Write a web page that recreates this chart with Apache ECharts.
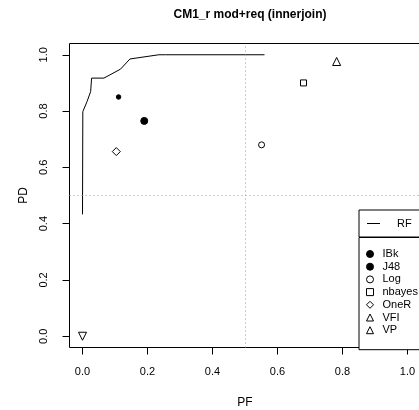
<!DOCTYPE html>
<html>
<head>
<meta charset="utf-8">
<script src="https://cdn.jsdelivr.net/npm/echarts@6/dist/echarts.min.js"></script>
<style>html,body{margin:0;padding:0;background:#fff}#c{width:419px;height:410px}</style>
</head>
<body>
<div id="c"></div>
<script>
// ---- data ----
const titleText = 'CM1_r mod+req (innerjoin)';
const xName = 'PF';
const yName = 'PD';
const tickValues = [0, 0.2, 0.4, 0.6, 0.8, 1.0];
const thresholdPF = 0.5;
const thresholdPD = 0.5;
// RF curve (PF, PD)
const rfPF = [0.000, 0.001, 0.014, 0.025, 0.028, 0.066, 0.117, 0.146, 0.235, 0.238, 0.255, 0.560];
const rfPD = [0.433, 0.798, 0.834, 0.869, 0.917, 0.917, 0.949, 0.985, 1.000, 0.994, 1.000, 1.000];
// learners
const learners = ['IBk', 'J48', 'Log', 'nbayes', 'OneR', 'VFI', 'VP'];
const learnerPF = [0.190, 0.111, 0.551, 0.680, 0.104, 0.782, 0.000];
const learnerPD = [0.765, 0.850, 0.680, 0.900, 0.656, 0.976, 0.000];

// ---- styles ----
const FONT = 'Liberation Sans';
const markerStyles = {
  IBk:    {symbol: 'circle',   size: 7,   fill: '#000', rot: 0},
  J48:    {symbol: 'circle',   size: 4.5, fill: '#000', rot: 0},
  Log:    {symbol: 'circle',   size: 6,   fill: '#fff', rot: 0},
  nbayes: {symbol: 'rect',     size: 6,   fill: '#fff', rot: 0},
  OneR:   {symbol: 'diamond',  size: 8,   fill: '#fff', rot: 0},
  VFI:    {symbol: 'triangle', size: 8,   fill: '#fff', rot: 0},
  VP:     {symbol: 'triangle', size: 8,   fill: '#fff', rot: 180}
};

const rfData = rfPF.map((x, i) => [x, rfPD[i]]);

const series = [{
  name: 'RF',
  type: 'line',
  data: rfData,
  symbol: 'none',
  lineStyle: {color: '#000', width: 1},
  itemStyle: {color: '#000'},
  animation: false,
  z: 3,
  markLine: {
    silent: true,
    symbol: 'none',
    label: {show: false},
    lineStyle: {color: '#9a9a9a', type: [1, 3], width: 1},
    data: [{xAxis: thresholdPF}, {yAxis: thresholdPD}],
    animation: false
  }
}];
learners.forEach((name, i) => {
  const s = markerStyles[name];
  series.push({
    name: name,
    type: 'scatter',
    data: [[learnerPF[i], learnerPD[i]]],
    symbol: s.symbol,
    symbolSize: s.size,
    symbolRotate: s.rot,
    itemStyle: {color: s.fill, borderColor: '#000', borderWidth: 1, opacity: 1},
    animation: false,
    z: 4
  });
});

const chart = echarts.init(document.getElementById('c'), null, {renderer: 'canvas'});
chart.setOption({
  backgroundColor: '#fff',
  animation: false,
  textStyle: {fontFamily: FONT},
  title: {
    text: titleText,
    left: 245,
    top: 4,
    textAlign: 'center',
    textStyle: {fontFamily: FONT, fontSize: 12, fontWeight: 'bold', color: '#000'}
  },
  grid: {
    left: 69.5, top: 43.5, width: 351, height: 304,
    outerBoundsMode: 'none', containLabel: false,
    show: true, borderColor: '#000', borderWidth: 1, backgroundColor: 'transparent'
  },
  xAxis: {
    type: 'value', min: -0.04, max: 1.04,
    name: xName, nameLocation: 'middle', nameGap: 49.5,
    nameTextStyle: {fontFamily: FONT, fontSize: 12, color: '#000'},
    axisLine: {show: false, onZero: false},
    splitLine: {show: false},
    axisTick: {show: true, inside: false, length: 7, customValues: tickValues, lineStyle: {color: '#000', width: 1}},
    axisLabel: {customValues: tickValues, margin: 18.5, fontFamily: FONT, fontSize: 11, color: '#000',
      formatter: v => v.toFixed(1)}
  },
  yAxis: {
    type: 'value', min: -0.04, max: 1.04,
    name: yName, nameLocation: 'middle', nameGap: 39.5, nameRotate: 90,
    nameTextStyle: {fontFamily: FONT, fontSize: 12, color: '#000'},
    axisLine: {show: false, onZero: false},
    splitLine: {show: false},
    axisTick: {show: true, inside: false, length: 7, customValues: tickValues, lineStyle: {color: '#000', width: 1}},
    axisLabel: {customValues: tickValues, margin: 20, rotate: 90, fontFamily: FONT, fontSize: 11, color: '#000',
      formatter: v => v.toFixed(1)}
  },
  legend: [{
    data: [{name: 'RF', icon: 'rect', itemStyle: {color: '#000', borderWidth: 0}}],
    orient: 'vertical',
    left: 359, top: 210,
    backgroundColor: '#fff',
    borderColor: '#000', borderWidth: 1, borderRadius: 0,
    padding: [8, 30, 8, 8],
    itemWidth: 13, itemHeight: 1,
    textStyle: {fontFamily: FONT, fontSize: 11, color: '#000', padding: [0, 0, 0, 12]},
    selectedMode: false
  }, {
    data: learners,
    orient: 'vertical',
    left: 359, top: 237.5,
    backgroundColor: '#fff',
    borderColor: '#000', borderWidth: 1, borderRadius: 0,
    padding: [11, 30, 14, 7],
    itemWidth: 7, itemHeight: 7,
    itemGap: 1.7,
    itemStyle: {borderWidth: 1},
    textStyle: {fontFamily: FONT, fontSize: 11, lineHeight: 11, color: '#000', padding: [0, 0, 0, 4]},
    selectedMode: false
  }],
  series: series
});
</script>
</body>
</html>
